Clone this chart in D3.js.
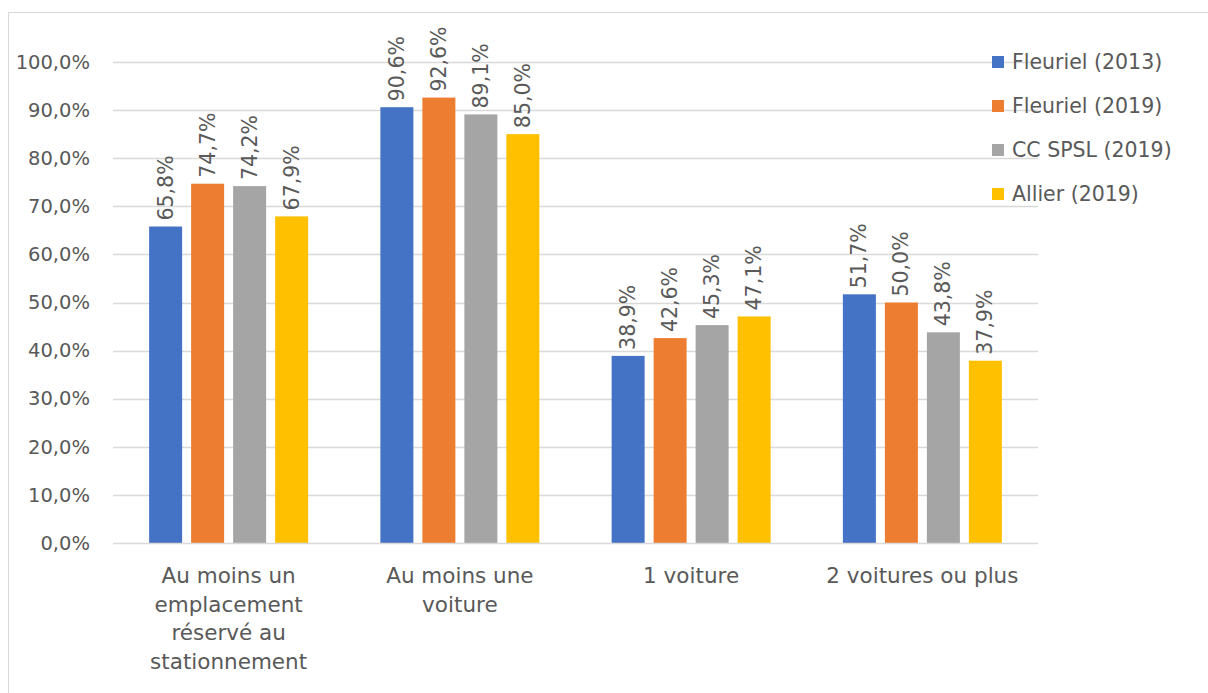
<!DOCTYPE html>
<html>
<head>
<meta charset="utf-8">
<script src="https://cdn.jsdelivr.net/npm/d3@7"></script>
<style>
  html, body { margin: 0; padding: 0; background: #fff; }
  svg { display: block; }
</style>
</head>
<body>
<svg id="chart" width="1208" height="693"></svg>
<script>
// Household parking and car ownership shares
const categories = [
  ["Au moins un", "emplacement", "réservé au", "stationnement"],
  ["Au moins une", "voiture"],
  ["1 voiture"],
  ["2 voitures ou plus"]
];
const seriesNames = ["Fleuriel (2013)", "Fleuriel (2019)", "CC SPSL (2019)", "Allier (2019)"];
const fleuriel2013 = [65.8, 90.6, 38.9, 51.7];
const fleuriel2019 = [74.7, 92.6, 42.6, 50.0];
const ccSpsl2019   = [74.2, 89.1, 45.3, 43.8];
const allier2019   = [67.9, 85.0, 47.1, 37.9];
const yTicks = [0, 10, 20, 30, 40, 50, 60, 70, 80, 90, 100];
const colors = ["#4472C4", "#ED7D31", "#A5A5A5", "#FFC000"];

const series = [fleuriel2013, fleuriel2019, ccSpsl2019, allier2019];
const fmt = v => v.toFixed(1).replace(".", ",") + "%";
const font = "'DejaVu Sans', sans-serif";
const textColor = "#595959";

const svg = d3.select("#chart");

// Chart area border
svg.append("rect")
  .attr("x", 8.5).attr("y", 12.5)
  .attr("width", 1240).attr("height", 720)
  .attr("fill", "#fff").attr("stroke", "#d9d9d9").attr("stroke-width", 1);

const plot = { left: 113, right: 1038, top: 62, bottom: 543 };

const y = d3.scaleLinear().domain([0, 100]).range([plot.bottom, plot.top]);
const x0 = d3.scaleBand()
  .domain(d3.range(categories.length))
  .range([plot.left, plot.right])
  .paddingInner(0).paddingOuter(0);
const groupWidth = 4 * 42 - 9;
const x1 = d3.scaleBand()
  .domain(d3.range(series.length))
  .range([0, groupWidth])
  .paddingInner(9 / 42).paddingOuter(0);

// Gridlines
svg.append("g")
  .selectAll("line")
  .data(yTicks.filter(t => t > 0))
  .join("line")
  .attr("x1", plot.left).attr("x2", plot.right)
  .attr("y1", d => Math.round(y(d)) + 0.5).attr("y2", d => Math.round(y(d)) + 0.5)
  .attr("stroke", "#d9d9d9").attr("stroke-width", 1.3);

// Y axis labels
const yAxis = d3.axisLeft(y).tickValues(yTicks).tickSize(0).tickPadding(0)
  .tickFormat(d => d.toFixed(1).replace(".", ",") + "%");
const yg = svg.append("g").attr("transform", `translate(${plot.left - 23},0)`).call(yAxis);
yg.select(".domain").remove();
yg.selectAll("text")
  .attr("font-family", font).attr("font-size", 19.5).attr("fill", textColor);

// Bars
const groups = svg.append("g")
  .selectAll("g")
  .data(categories)
  .join("g")
  .attr("transform", (d, i) => `translate(${x0(i) + (x0.bandwidth() - groupWidth) / 2},0)`);

groups.each(function(cat, ci) {
  const g = d3.select(this);
  series.forEach((s, si) => {
    const v = s[ci];
    g.append("rect")
      .attr("x", x1(si))
      .attr("y", y(v))
      .attr("width", x1.bandwidth())
      .attr("height", y(0) - y(v))
      .attr("fill", colors[si]);
    const cx = x1(si) + x1.bandwidth() / 2;
    g.append("text")
      .attr("transform", `translate(${cx + 7},${y(v) - 6}) rotate(-90)`)
      .attr("font-family", font).attr("font-size", 20.5).attr("fill", textColor)
      .text(fmt(v));
  });
});

// Baseline
svg.append("line")
  .attr("x1", plot.left).attr("x2", plot.right)
  .attr("y1", plot.bottom + 0.5).attr("y2", plot.bottom + 0.5)
  .attr("stroke", "#d9d9d9").attr("stroke-width", 1.5);

// Category labels
const catG = svg.append("g");
categories.forEach((lines, i) => {
  const t = catG.append("text")
    .attr("x", x0(i) + x0.bandwidth() / 2)
    .attr("y", 583)
    .attr("text-anchor", "middle")
    .attr("font-family", font).attr("font-size", 21.5).attr("fill", textColor);
  lines.forEach((ln, k) => {
    t.append("tspan")
      .attr("x", x0(i) + x0.bandwidth() / 2)
      .attr("dy", k === 0 ? 0 : 28.7)
      .text(ln);
  });
});

// Legend
const legend = svg.append("g").attr("transform", "translate(992,0)");
seriesNames.forEach((name, i) => {
  const cy = 62 + i * 44;
  legend.append("rect")
    .attr("x", 0).attr("y", cy - 6)
    .attr("width", 12).attr("height", 12)
    .attr("fill", colors[i]);
  legend.append("text")
    .attr("x", 20).attr("y", cy + 7)
    .attr("font-family", font).attr("font-size", 20.5).attr("fill", textColor)
    .text(name);
});
</script>
</body>
</html>
